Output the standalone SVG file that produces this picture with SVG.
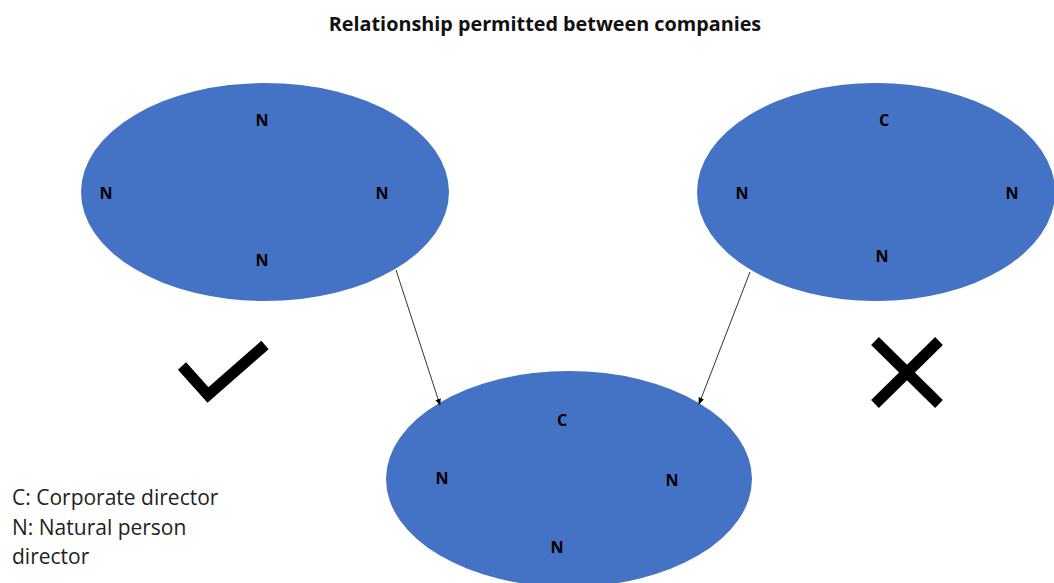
<svg xmlns="http://www.w3.org/2000/svg" width="1054" height="583" viewBox="0 0 1054 583">
<style>
.e{fill:#4472c4}
.l{font-family:"Open Sans","Liberation Sans",sans-serif;font-weight:bold;font-size:16px;fill:#000;text-anchor:middle}
.t{font-family:"Open Sans","Liberation Sans",sans-serif;font-size:21px;fill:#222}
.c{stroke:#333;stroke-width:1;fill:none;marker-end:url(#ah)}
.m{stroke:#000;stroke-width:11;fill:none}
</style>
<defs>
<marker id="ah" viewBox="0 0 10 10" refX="9" refY="5" markerWidth="7" markerHeight="7" orient="auto"><path d="M0,1 L10,5 L0,9 z" fill="#000"/></marker>
</defs>
<rect width="1054" height="583" fill="#fff"/>
<text x="545" y="31" style="font-family:'Open Sans','Liberation Sans',sans-serif;font-weight:bold;font-size:19.8px;text-anchor:middle;fill:#111">Relationship permitted between companies</text>
<g id="left-company">
<ellipse class="e" cx="265" cy="192" rx="184" ry="109"/>
<text class="l" x="262" y="126">N</text>
<text class="l" x="106" y="199">N</text>
<text class="l" x="382" y="199">N</text>
<text class="l" x="262" y="266">N</text>
</g>
<g id="right-company">
<ellipse class="e" cx="876" cy="192" rx="179" ry="109"/>
<text class="l" x="884" y="126">C</text>
<text class="l" x="742" y="199">N</text>
<text class="l" x="1012" y="199">N</text>
<text class="l" x="882" y="262">N</text>
</g>
<g id="bottom-company">
<ellipse class="e" cx="569" cy="479" rx="183" ry="108"/>
<text class="l" x="562" y="426">C</text>
<text class="l" x="442" y="484">N</text>
<text class="l" x="672" y="486">N</text>
<text class="l" x="557" y="553">N</text>
</g>
<g id="connectors">
<line class="c" x1="396" y1="270" x2="440" y2="405"/>
<line class="c" x1="750" y1="272" x2="699" y2="404"/>
</g>
<g id="check">
<polyline class="m" points="182,366 208,395 265,345"/>
</g>
<g id="cross">
<line class="m" x1="875" y1="341" x2="939" y2="404"/>
<line class="m" x1="939" y1="341" x2="875" y2="404"/>
</g>
<g id="legend">
<text class="t" x="12" y="505">C: Corporate director</text>
<text class="t" x="12" y="535">N: Natural person</text>
<text class="t" x="12" y="564">director</text>
</g>
</svg>
